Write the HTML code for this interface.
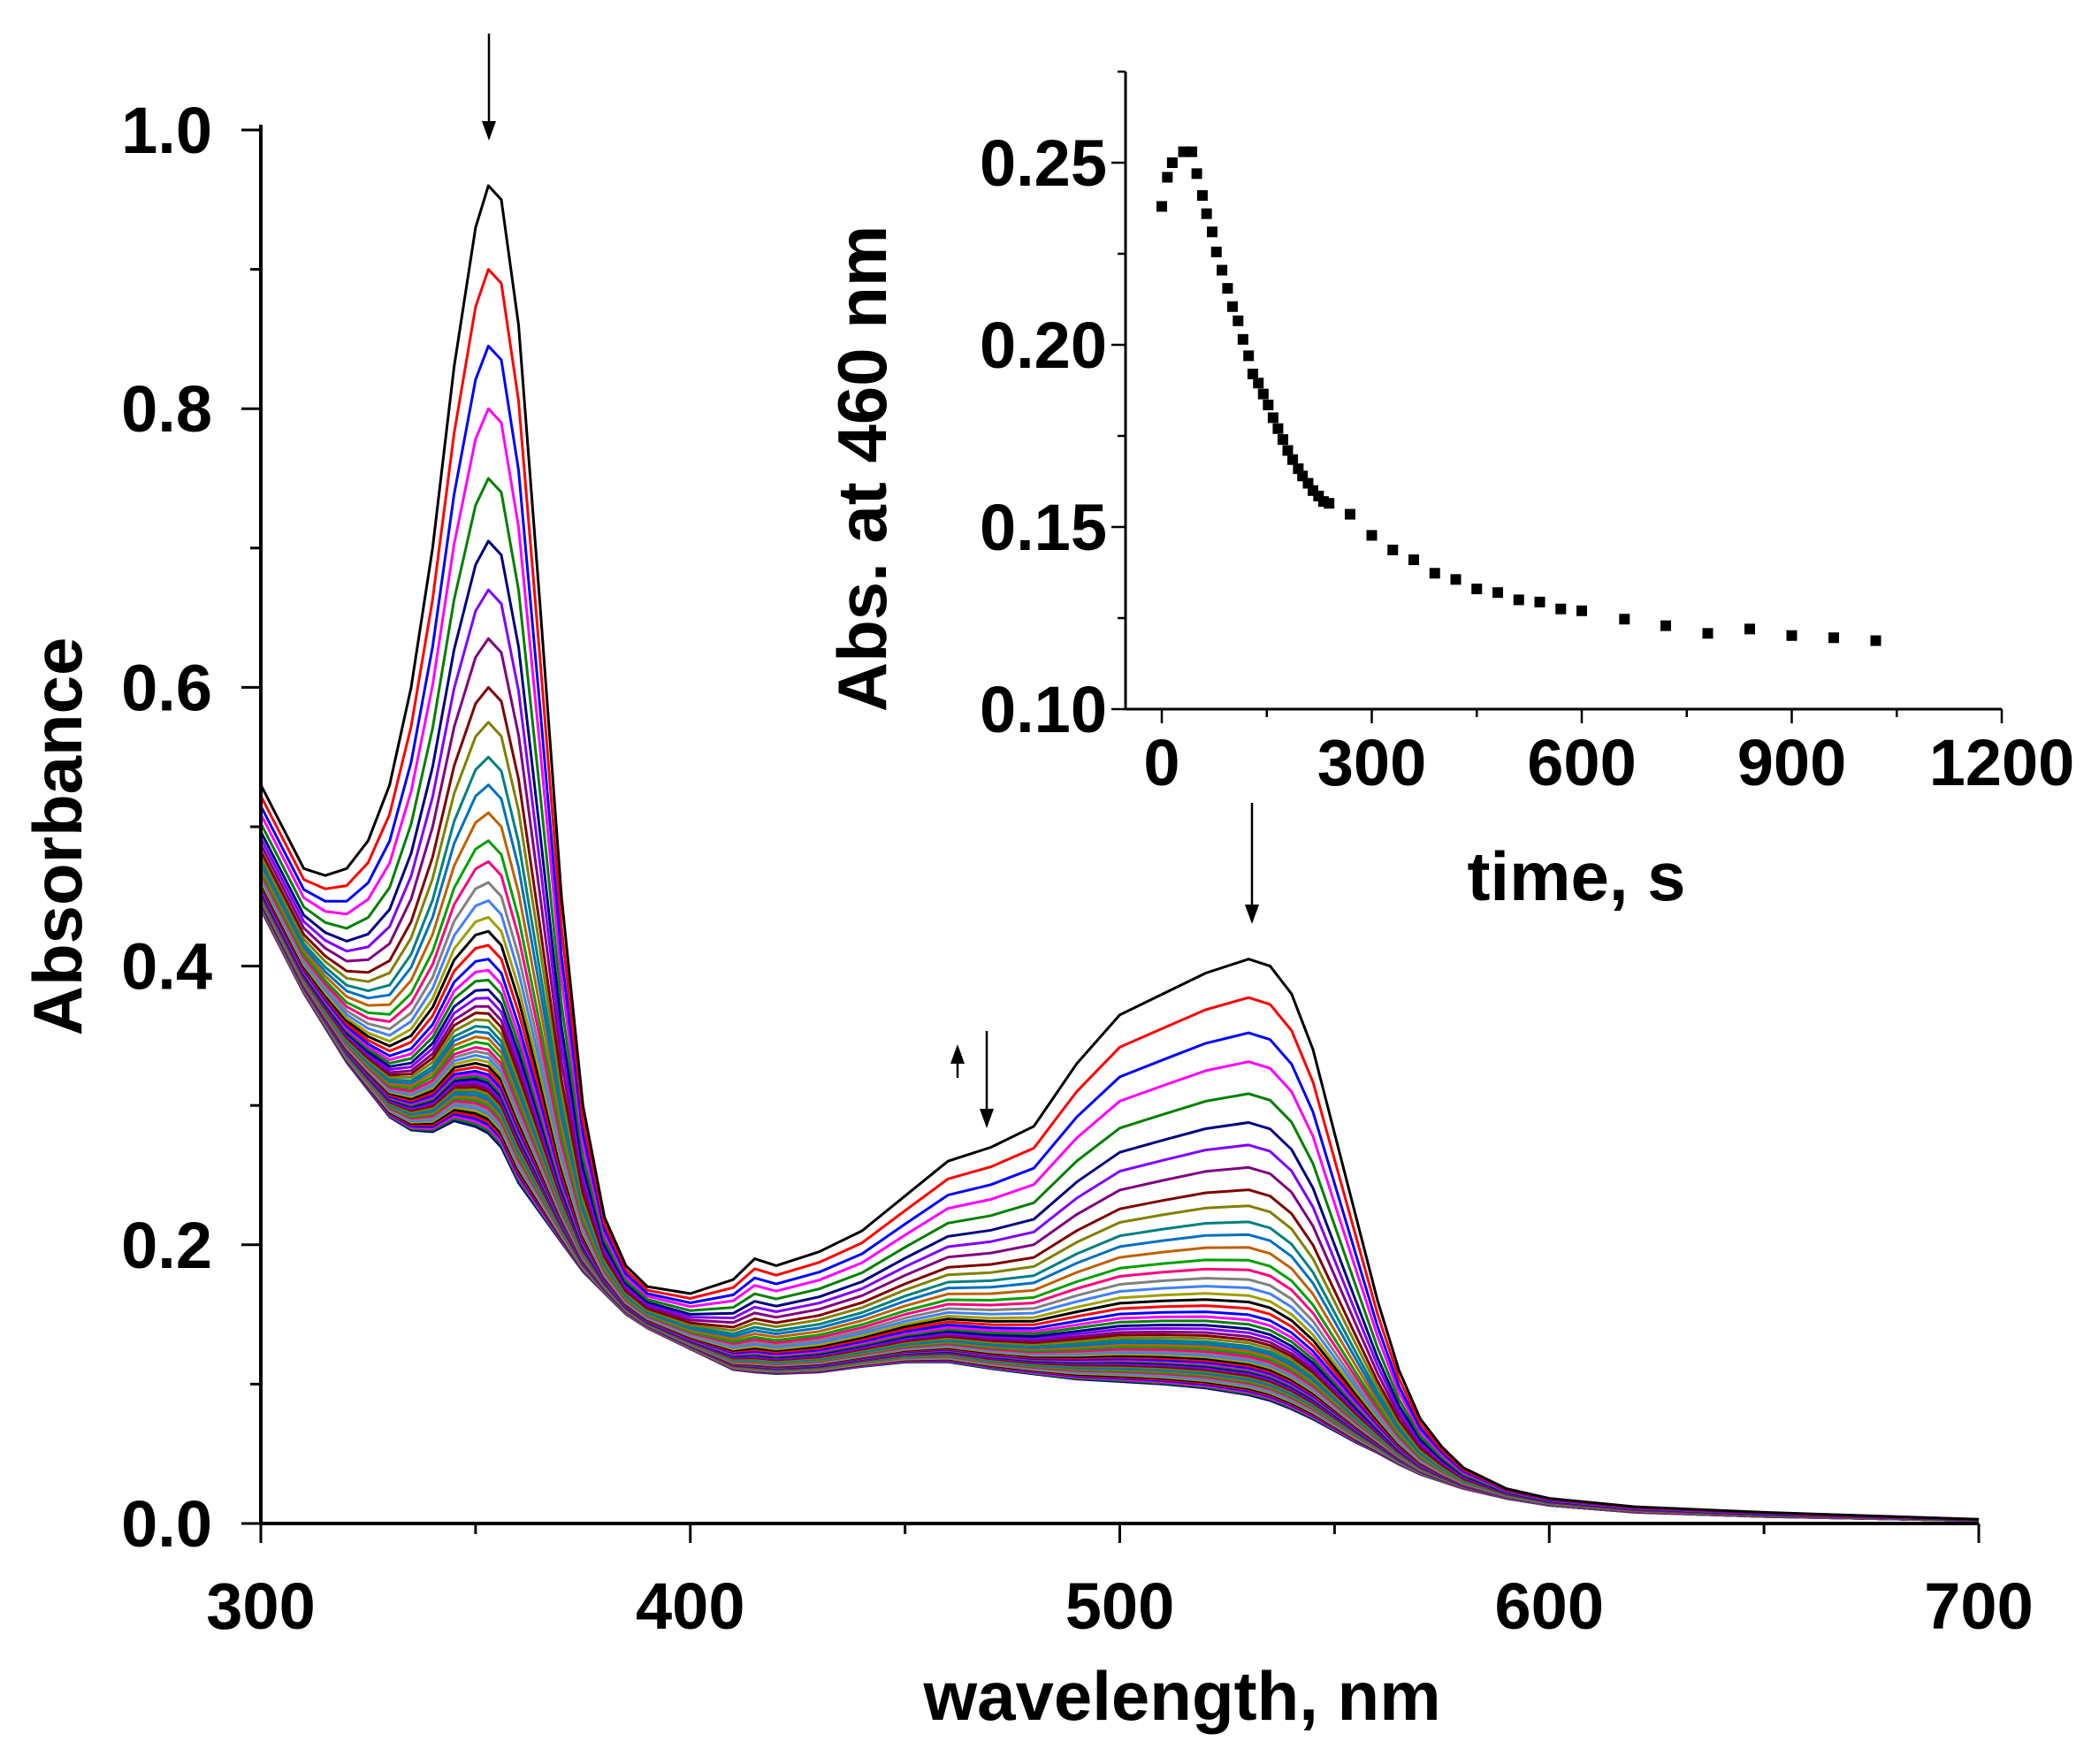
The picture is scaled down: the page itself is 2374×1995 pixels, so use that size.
<!DOCTYPE html>
<html><head><meta charset="utf-8"><style>
html,body{margin:0;padding:0;background:#fff;}
svg text{font-family:"Liberation Sans",Arial,sans-serif;font-weight:bold;fill:#000;}
</style></head><body>
<svg id="chart" width="2374" height="1990" viewBox="0 0 2374 1990" xmlns="http://www.w3.org/2000/svg">
<g id="main"></g>
<g id="inset"></g>
</svg>
<script>
// ---- main spectra data ----
const wavelengths = [300,310,315,320,325,330,335,340,345,350,353,356,360,365,370,375,380,385,390,400,410,415,420,430,440,450,460,470,480,490,500,510,520,530,535,540,545,550,555,560,565,570,575,580,590,600,620,650,700];
const firstSpectrum = [0.53,0.47,0.465,0.47,0.49,0.53,0.60,0.70,0.83,0.93,0.96,0.95,0.86,0.66,0.45,0.30,0.22,0.185,0.17,0.165,0.175,0.19,0.185,0.195,0.21,0.235,0.26,0.27,0.285,0.33,0.365,0.38,0.395,0.405,0.40,0.38,0.34,0.28,0.22,0.16,0.11,0.075,0.055,0.04,0.025,0.018,0.012,0.008,0.003];
const lastSpectrum = [0.44,0.38,0.355,0.33,0.31,0.29,0.28,0.278,0.285,0.28,0.275,0.265,0.24,0.22,0.2,0.18,0.165,0.15,0.14,0.125,0.11,0.108,0.107,0.108,0.112,0.115,0.115,0.11,0.106,0.102,0.1,0.098,0.095,0.09,0.086,0.08,0.073,0.065,0.057,0.05,0.042,0.035,0.03,0.025,0.018,0.013,0.008,0.005,0.002];
const peakHeights = [0.96,0.90,0.845,0.80,0.75,0.705,0.67,0.635,0.60,0.575,0.55,0.53,0.51,0.49,0.475,0.46,0.447,0.435,0.425,0.415,0.405,0.397,0.39,0.383,0.377,0.371,0.366,0.361,0.356,0.352,0.348,0.344,0.34,0.337,0.334,0.331,0.328,0.325,0.322,0.32,0.318,0.316,0.314,0.312,0.31,0.308,0.306,0.304,0.302,0.30,0.298,0.296,0.294,0.292,0.29,0.288,0.286,0.284,0.282,0.28];
const xTicks = [300,400,500,600,700];
const yTicks = [0.0,0.2,0.4,0.6,0.8,1.0];
// ---- inset data ----
const insetTime = [0,8,15,31,43,50,58,64,72,78,86,94,101,109,116,124,130,138,145,152,159,166,173,180,187,195,201,209,216,224,231,239,269,300,330,360,390,420,450,480,510,540,570,600,661,720,780,840,900,960,1020];
const insetAbs = [0.238,0.246,0.25,0.253,0.253,0.247,0.241,0.236,0.231,0.2255,0.2205,0.2155,0.2105,0.2066,0.2015,0.197,0.192,0.1895,0.1865,0.1835,0.180,0.177,0.174,0.171,0.1685,0.166,0.164,0.162,0.160,0.1585,0.157,0.1565,0.1535,0.1477,0.1437,0.141,0.1373,0.1356,0.133,0.132,0.130,0.1294,0.1275,0.127,0.1247,0.1229,0.1208,0.122,0.1202,0.1196,0.1188];
const insetXTicks = [0,300,600,900,1200];
const insetYTicks = [0.10,0.15,0.20,0.25];

const NS="http://www.w3.org/2000/svg";
function mk(tag,attrs,parent){const e=document.createElementNS(NS,tag);for(const k in attrs)e.setAttribute(k,attrs[k]);parent.appendChild(e);return e;}
const main=document.getElementById('main'), inset=document.getElementById('inset');
const X0=295,X1=2238,Y0=1723,Y1=147;
const sx=v=>X0+(v-300)/400*(X1-X0);
const sy=v=>Y0-v*(Y0-Y1);
const colors=["#000000","#ff0000","#0000ff","#ff00ff","#008000","#000080","#8000ff","#800080","#800000","#808000","#008080","#0070c0","#c06000","#00a000","#ff0080","#808080","#4080ff","#a0a000"];
const lo=lastSpectrum[10], hi=firstSpectrum[10];
for(let i=peakHeights.length-1;i>=0;i--){
  const p=(peakHeights[i]-lo)/(hi-lo);
  const d=wavelengths.map((w,j)=>(j?'L':'M')+sx(w).toFixed(1)+','+sy(lastSpectrum[j]+p*(firstSpectrum[j]-lastSpectrum[j])).toFixed(1)).join('');
  const el=mk('path',{d:d,fill:'none',stroke:colors[i%colors.length],'stroke-width':3,'stroke-linejoin':'round'},main);
  
  
}
let a=mk('line',{x1:X0,y1:Y0,x2:X1,y2:Y0,stroke:'#000','stroke-width':4},main);

a=mk('line',{x1:X0,y1:Y0+2,x2:X0,y2:Y1-6,stroke:'#000','stroke-width':4},main);

for(let v=300;v<=700;v+=50){const major=v%100===0;mk('line',{x1:sx(v),y1:Y0,x2:sx(v),y2:Y0+(major?22:12),stroke:'#000','stroke-width':3},main);}
for(let k=0;k<=10;k++){const v=k*0.1;const major=k%2===0;mk('line',{x1:X0,y1:sy(v),x2:X0-(major?22:12),y2:sy(v),stroke:'#000','stroke-width':3},main);}
xTicks.forEach(v=>{const t=mk('text',{x:sx(v),y:1842,'font-size':74,'text-anchor':'middle'},main);t.textContent=v;
});
yTicks.forEach(v=>{const t=mk('text',{x:240,y:sy(v)+26,'font-size':74,'text-anchor':'end'},main);t.textContent=v.toFixed(1);
});
let t=mk('text',{x:1337,y:1945,'font-size':78,'text-anchor':'middle'},main);t.textContent='wavelength, nm';

t=mk('text',{x:0,y:0,'font-size':78,'text-anchor':'middle',transform:'translate(92,946) rotate(-90)'},main);t.textContent='Absorbance';

function arrow(x,y1,y2,name){const g=mk('g',{},main);
 const dir=y2>y1?1:-1;mk('line',{x1:x,y1:y1,x2:x,y2:y2-dir*18,stroke:'#000','stroke-width':2.5},g);
 mk('polygon',{points:`${x-8},${y2-dir*22} ${x+8},${y2-dir*22} ${x},${y2}`,fill:'#000'},g);}
arrow(553,38,159,'arrow-353');
arrow(1416,908,1045,'arrow-530');
arrow(1116,1166,1276,'arrow-470');
arrow(1083,1219,1181,'arrow-up-460');
const IX0=1314,IX1=2264,IY0=802,IY1=184;
const ix=v=>IX0+v/1200*(IX1-IX0);
const iy=v=>IY0-(v-0.10)/0.15*(IY0-IY1);
a=mk('line',{x1:1273,y1:IY0,x2:IX1,y2:IY0,stroke:'#000','stroke-width':3},inset);

a=mk('line',{x1:1273,y1:IY0+1,x2:1273,y2:81,stroke:'#000','stroke-width':3},inset);

for(let v=0;v<=1200;v+=150){const major=v%300===0;mk('line',{x1:ix(v),y1:IY0,x2:ix(v),y2:IY0+(major?16:9),stroke:'#000','stroke-width':2.5},inset);}
for(let v=0.10;v<=0.2751;v+=0.025){const major=Math.round(v*1000)%50===0;mk('line',{x1:1273,y1:iy(v),x2:1273-(major?16:9),y2:iy(v),stroke:'#000','stroke-width':2.5},inset);}
insetXTicks.forEach(v=>{const e=mk('text',{x:ix(v),y:888,'font-size':74,'text-anchor':'middle'},inset);e.textContent=v;
});
insetYTicks.forEach(v=>{const e=mk('text',{x:1252,y:iy(v)+26,'font-size':74,'text-anchor':'end'},inset);e.textContent=v.toFixed(2);
});
t=mk('text',{x:1783,y:1018,'font-size':78,'text-anchor':'middle'},inset);t.textContent='time, s';

t=mk('text',{x:0,y:0,'font-size':78,'text-anchor':'middle',transform:'translate(1002,530) rotate(-90)'},inset);t.textContent='Abs. at 460 nm';

insetTime.forEach((v,i)=>{const r=mk('rect',{x:ix(v)-6,y:iy(insetAbs[i])-6,width:12,height:12,fill:'#000'},inset);

});
</script>
</body></html>
